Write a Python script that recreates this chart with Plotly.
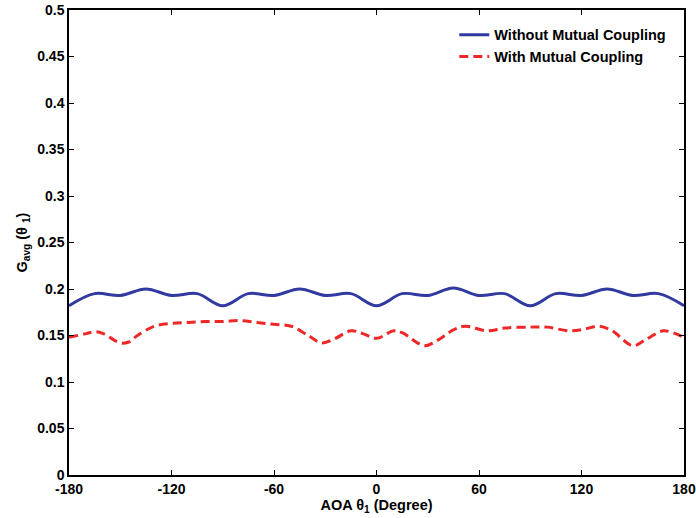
import plotly.graph_objects as go

# Data
aoa_blue = [-180, -165, -150, -135, -120, -105, -90, -75, -60, -45, -30, -15, 0,
            15, 30, 45, 60, 75, 90, 105, 120, 135, 150, 165, 180]
g_without = [0.182, 0.195, 0.193, 0.200, 0.193, 0.195, 0.182, 0.195, 0.193, 0.200, 0.193, 0.195, 0.182,
             0.195, 0.193, 0.201, 0.193, 0.195, 0.182, 0.195, 0.193, 0.200, 0.193, 0.195, 0.182]

aoa_red = [-180, -170, -165, -160, -150, -145, -140, -130, -120, -110, -100, -90, -80, -70, -60,
           -50, -40, -32, -25, -15, -8, 0, 10, 15, 28, 35, 45, 52, 65, 75, 90, 100, 113, 122,
           130, 138, 150, 158, 168, 180]
g_with = [0.148, 0.152, 0.154, 0.152, 0.142, 0.143, 0.150, 0.160, 0.163, 0.164, 0.165, 0.165, 0.166,
          0.164, 0.162, 0.160, 0.150, 0.142, 0.146, 0.155, 0.152, 0.147, 0.155, 0.153, 0.139, 0.144,
          0.156, 0.160, 0.155, 0.158, 0.159, 0.159, 0.155, 0.157, 0.160, 0.155, 0.139, 0.146, 0.155, 0.148]

x_ticks = [-180, -120, -60, 0, 60, 120, 180]
y_ticks = [0, 0.05, 0.1, 0.15, 0.2, 0.25, 0.3, 0.35, 0.4, 0.45, 0.5]
y_tick_labels = ["0", "0.05", "0.1", "0.15", "0.2", "0.25", "0.3", "0.35", "0.4", "0.45", "0.5"]

FONT = "Liberation Sans, Arial, sans-serif"

fig = go.Figure()
fig.add_trace(go.Scatter(x=aoa_blue, y=g_without, mode="lines", name="<b>Without Mutual Coupling</b>",
                         line=dict(color="rgb(48,58,160)", width=3, shape="spline", smoothing=1.0)))
fig.add_trace(go.Scatter(x=aoa_red, y=g_with, mode="lines", name="<b>With Mutual Coupling</b>",
                         line=dict(color="rgb(238,40,40)", width=3, dash="9px,5px",
                                   shape="spline", smoothing=1.0)))

axis_common = dict(showline=True, linecolor="black", linewidth=1.5, mirror="allticks",
                   ticks="inside", ticklen=5, tickcolor="black", showgrid=False, zeroline=False,
                   automargin=False,
                   tickfont=dict(family=FONT, size=14, color="black", weight="bold"))

fig.update_layout(
    width=696, height=518,
    margin=dict(l=69, r=12, t=10, b=43),
    paper_bgcolor="white", plot_bgcolor="white",
    font=dict(family=FONT, color="black"),
    showlegend=True,
    legend=dict(x=0.6265, y=0.981, xanchor="left", yanchor="top", bgcolor="rgba(0,0,0,0)",
                font=dict(family=FONT, size=14.5, color="black"), tracegroupgap=0,
                itemwidth=30),
    xaxis=dict(range=[-180, 180], tickvals=x_ticks, ticktext=[str(v) for v in x_ticks],
               title=dict(text="<b>AOA θ<sub>1</sub> (Degree)</b>", standoff=0,
                          font=dict(family=FONT, size=14.5, color="black")),
               **axis_common),
    yaxis=dict(range=[0, 0.5], tickvals=y_ticks, ticktext=y_tick_labels,
               title=dict(text="<b>G<sub>avg</sub> (θ <sub>1</sub>)</b>", standoff=6,
                          font=dict(family=FONT, size=14.5, color="black")),
               **axis_common),
)

fig.write_html("out.html", config={"displayModeBar": False},
               post_script="document.body.style.margin='0';")
